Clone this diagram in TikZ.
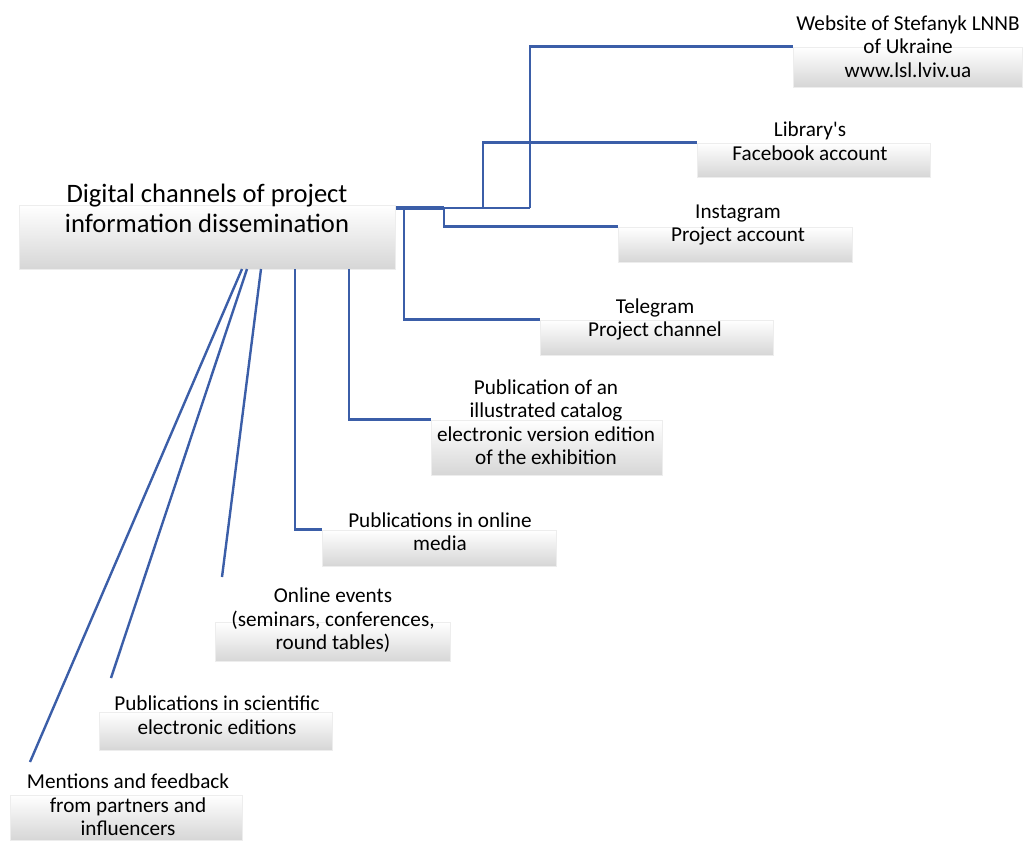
\documentclass[tikz,border=0pt]{standalone}
\usepackage{fontspec}
\setmainfont{Carlito}
\definecolor{linkblue}{HTML}{3B5EA8}
\tikzset{
  chan/.style={rectangle, inner sep=0pt, top color=white, bottom color=black!16,
    draw=black!7},
  lbl/.style={align=center, inner sep=0pt, font=\fontsize{10.6}{11.75}\selectfont},
  link/.style={linkblue, line width=1.2pt},
}
\begin{document}
\begin{tikzpicture}[x=0.5pt, y=-0.5pt]
        \useasboundingbox (0,0) rectangle (1026,843);

        % boxes
        \node[chan, minimum width=188pt, minimum height=32pt] (main) at (207,237) {};
        \node[chan, minimum width=114.5pt, minimum height=20pt] (web) at (907.5,67) {};
        \node[chan, minimum width=116.5pt, minimum height=17pt] (fb) at (813.5,160) {};
        \node[chan, minimum width=117pt, minimum height=17.5pt] (ig) at (735,244.5) {};
        \node[chan, minimum width=116.5pt, minimum height=17.5pt] (tg) at (656.5,337.5) {};
        \node[chan, minimum width=115.5pt, minimum height=27.5pt] (cat) at (546.5,447.5) {};
        \node[chan, minimum width=117pt, minimum height=18pt] (med) at (439,548) {};
        \node[chan, minimum width=117.5pt, minimum height=19.5pt] (evt) at (332.5,642) {};
        \node[chan, minimum width=116.5pt, minimum height=19pt] (sci) at (215.5,731) {};
        \node[chan, minimum width=116pt, minimum height=22.5pt] (men) at (126,817.5) {};

        % connector points
        \coordinate (hub) at (396,208);
        \coordinate (hubend) at (444,208);
        \coordinate (tgj) at (404,208);
        \coordinate (fbj) at (483,208);
        \coordinate (webj) at (530,208);
        \coordinate (catj) at (349,269);
        \coordinate (medj) at (295,269);
        \coordinate (evtj) at (261,269);
        \coordinate (scij) at (247,269);
        \coordinate (menj) at (242,269);
        \coordinate (evtend) at (222,577);
        \coordinate (sciend) at (111,678);
        \coordinate (menend) at (30,762);

        \draw[link, line width=2pt] (hub) -- (hubend);
        \draw[link] (hubend) -- (webj);
        \draw[link] (tgj) |- (tg.north west);
        \draw[link] (hubend) |- (ig.north west);
        \draw[link] (fbj) |- (fb.north west);
        \draw[link] (webj) |- (web.north west);
        \draw[link] (catj) |- (cat.north west);
        \draw[link] (medj) |- (med.north west);
        \draw[link] (evtj) -- (evtend);
        \draw[link] (scij) -- (sciend);
        \draw[link] (menj) -- (menend);

        % labels
        \node[lbl, font=\fontsize{13.3}{15}\selectfont] (mainlbl) at (207,208)
          {Digital channels of project\\information dissemination};
        \node[lbl] (weblbl) at (908,46.5) {Website of Stefanyk LNNB\\of Ukraine\\www.lsl.lviv.ua};
        \node[lbl] (fblbl) at (810,141) {Library\textquotesingle s\\Facebook account};
        \node[lbl] (iglbl) at (738,225) {Instagram\\Project account};
        \node[lbl] (tglbl) at (655,319.5) {Telegram\\Project channel};
        \node[lbl] (catlbl) at (546,422) {Publication of an\\illustrated catalog\\electronic version edition\\of the exhibition};
        \node[lbl] (medlbl) at (440,531.5) {Publications in online\\media};
        \node[lbl] (evtlbl) at (333,620.5) {Online events\\(seminars, conferences,\\round tables)};
        \node[lbl] (scilbl) at (217,715) {Publications in scientific\\electronic editions};
        \node[lbl] (menlbl) at (128,805) {Mentions and feedback\\from partners and\\influencers};
\end{tikzpicture}
\end{document}
